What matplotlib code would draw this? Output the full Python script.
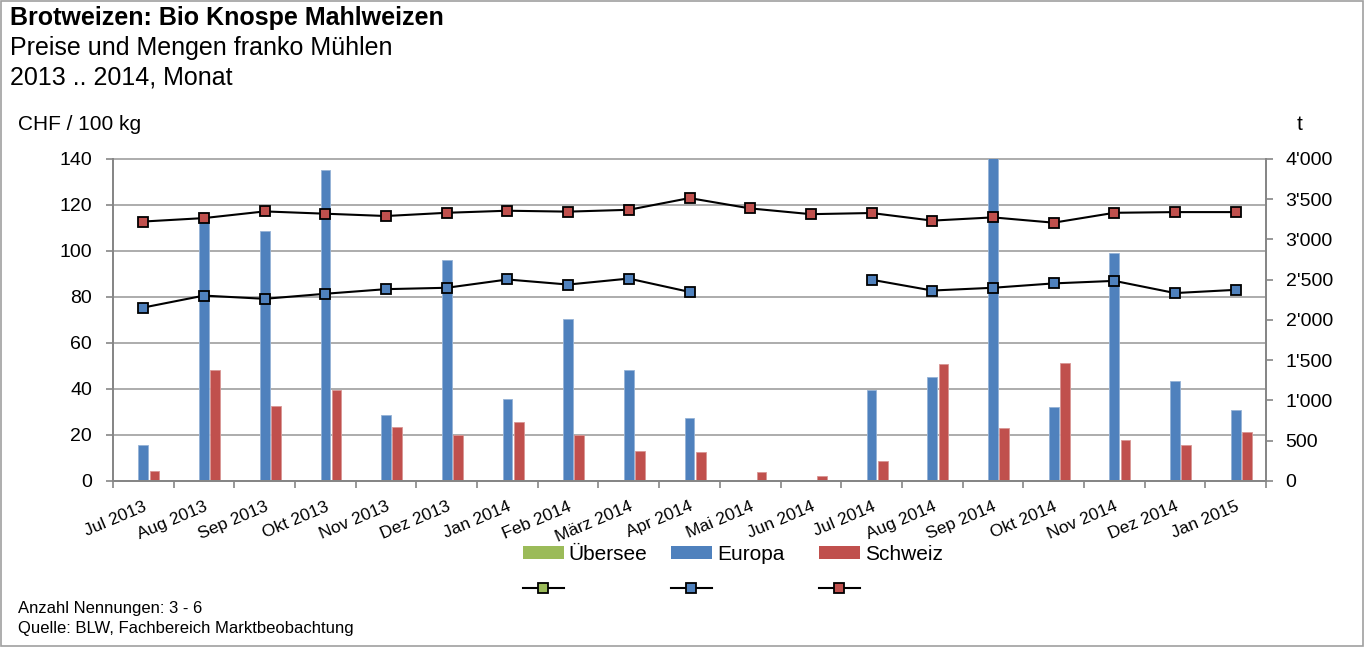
import matplotlib
matplotlib.use('Agg')
import matplotlib.pyplot as plt
import numpy as np
from matplotlib.patches import Patch, Rectangle
from matplotlib.lines import Line2D
from matplotlib.ticker import FuncFormatter, FixedLocator
from matplotlib.transforms import blended_transform_factory

plt.rcParams['font.family'] = ['Liberation Sans', 'DejaVu Sans']

# Monate
months = ['Jul 2013', 'Aug 2013', 'Sep 2013', 'Okt 2013', 'Nov 2013', 'Dez 2013',
          'Jan 2014', 'Feb 2014', 'März 2014', 'Apr 2014', 'Mai 2014', 'Jun 2014',
          'Jul 2014', 'Aug 2014', 'Sep 2014', 'Okt 2014', 'Nov 2014', 'Dez 2014',
          'Jan 2015']
nan = np.nan

# Mengen in t (Balken, rechte Achse)
menge_uebersee = [nan] * 19
menge_europa = [443, 3230, 3108, 3863, 821, 2748, 1015, 2010, 1380, 787, nan, nan,
                1131, 1293, 4400, 916, 2835, 1248, 883]
menge_schweiz = [124, 1380, 932, 1128, 676, 572, 729, 568, 373, 360, 112, 62,
                 249, 1451, 663, 1471, 510, 443, 605]

# Preise in CHF / 100 kg (Linien, linke Achse)
preis_uebersee = [nan] * 19
preis_europa = [75.4, 80.6, 79.2, 81.4, 83.4, 84.0, 87.6, 85.4, 88.0, 82.2, nan, nan,
                87.5, 82.8, 84.0, 85.9, 87.0, 81.7, 83.1]
preis_schweiz = [112.8, 114.3, 117.2, 116.2, 115.2, 116.6, 117.5, 117.1, 117.9, 123.0,
                 118.5, 116.0, 116.5, 113.2, 114.6, 112.3, 116.6, 116.9, 116.9]

c_green = '#9BBB59'
c_blue = '#4F81BD'
c_red = '#C0504D'
grid_col = '#A6A6A6'
spine_col = '#868686'

fig = plt.figure(figsize=(13.64, 6.47), dpi=100)
ax_t = fig.add_axes([0.0828, 0.2566, 0.8454, 0.4977])   # Mengen
ax_p = ax_t.twinx()                                       # Preise
ax_p.set_zorder(ax_t.get_zorder() + 1)
ax_p.patch.set_visible(False)

x = np.arange(len(months))
w = 0.16
off = 0.185

# Gitterlinien auf Preisachse, hinter den Balken
ax_p.set_ylim(0, 140)
price_ticks = np.arange(0, 141, 20)
gtrans = blended_transform_factory(ax_t.transAxes, ax_p.transData)
for v in price_ticks:
    ax_t.plot([0, 1], [v, v], color=grid_col, lw=1.3, transform=gtrans, zorder=0,
              clip_on=False)

ax_t.bar(x - off, menge_uebersee, w, color=c_green, edgecolor='#C3D69B', lw=0.6, zorder=2)
ax_t.bar(x, menge_europa, w, color=c_blue, edgecolor='#95B3D7', lw=0.6, zorder=2)
ax_t.bar(x + off, menge_schweiz, w, color=c_red, edgecolor='#D99694', lw=0.6, zorder=2)
ax_t.set_ylim(0, 4000)
ax_t.set_xlim(-0.5, len(months) - 0.5)

mk = dict(marker='s', markersize=7.8, markeredgecolor='black', markeredgewidth=1.3,
          color='black', lw=1.5)
ax_p.plot(x, preis_uebersee, markerfacecolor=c_green, **mk)
ax_p.plot(x, preis_europa, markerfacecolor=c_blue, **mk)
ax_p.plot(x, preis_schweiz, markerfacecolor=c_red, **mk)

# Achsen: Preise links, Mengen rechts
ax_p.yaxis.set_label_position('left')
ax_p.yaxis.tick_left()
ax_t.yaxis.tick_right()
ax_p.set_yticks(price_ticks)
ax_t.set_yticks(np.arange(0, 4001, 500))
ax_t.yaxis.set_major_formatter(FuncFormatter(lambda v, p: f'{int(v):,}'.replace(',', "'")))
ax_p.tick_params(axis='y', labelsize=14, length=5, width=1.2, color=spine_col, pad=10)
ax_t.tick_params(axis='y', labelsize=14, length=5, width=1.2, color=spine_col, pad=9)

ax_t.xaxis.set_major_locator(FixedLocator(x))
ax_t.set_xticklabels(months, rotation=23, ha='right', va='top', rotation_mode='anchor',
                     fontsize=12.5)
ax_t.xaxis.set_minor_locator(FixedLocator(np.arange(-0.5, len(months), 1)))
ax_t.tick_params(axis='x', which='major', length=0, pad=13)
ax_t.tick_params(axis='x', which='minor', length=5, width=1.2, color=spine_col)
ax_p.tick_params(axis='x', which='both', length=0, labelbottom=False)

for a in (ax_t, ax_p):
    a.spines['top'].set_visible(False)
    for s in ('left', 'right', 'bottom'):
        a.spines[s].set_color(spine_col)
        a.spines[s].set_linewidth(1.3)

# Titel
fig.text(10 / 1364, 1 - 18 / 647, 'Brotweizen: Bio Knospe Mahlweizen', fontsize=18,
         fontweight='bold', va='center', ha='left')
fig.text(10 / 1364, 1 - 48 / 647, 'Preise und Mengen franko Mühlen', fontsize=18,
         va='center', ha='left')
fig.text(10 / 1364, 1 - 77 / 647, '2013 .. 2014, Monat', fontsize=18, va='center', ha='left')
fig.text(18 / 1364, 1 - 125 / 647, 'CHF / 100 kg', fontsize=15, va='center', ha='left')
fig.text(1300 / 1364, 1 - 124 / 647, 't', fontsize=15, va='center', ha='center')

# Legende: je Herkunft eine Spalte (Menge oben, Preis unten)
for name, col, xpos in [('Übersee', c_green, 523), ('Europa', c_blue, 671),
                        ('Schweiz', c_red, 819)]:
    h_bar = Patch(facecolor=col, edgecolor='none')
    h_line = Line2D([], [], markerfacecolor=col, **dict(mk, markersize=7))
    fig.legend([h_bar, h_line], [name, ''], loc='upper left',
               bbox_to_anchor=(xpos / 1364, 1 - 545 / 647), frameon=False, fontsize=15,
               handlelength=1.95, handleheight=0.55, handletextpad=0.25, labelspacing=0.75,
               borderpad=0, borderaxespad=0)

fig.text(18 / 1364, 1 - 608 / 647, 'Anzahl Nennungen: 3 - 6', fontsize=12, va='center')
fig.text(18 / 1364, 1 - 628 / 647, 'Quelle: BLW, Fachbereich Marktbeobachtung',
         fontsize=12, va='center')

fig.patches.append(Rectangle((0.0007, 0.001), 0.9985, 0.997, transform=fig.transFigure,
                             fill=False, edgecolor='#A0A0A0', lw=1.2))

fig.savefig('out.png', dpi=100)
